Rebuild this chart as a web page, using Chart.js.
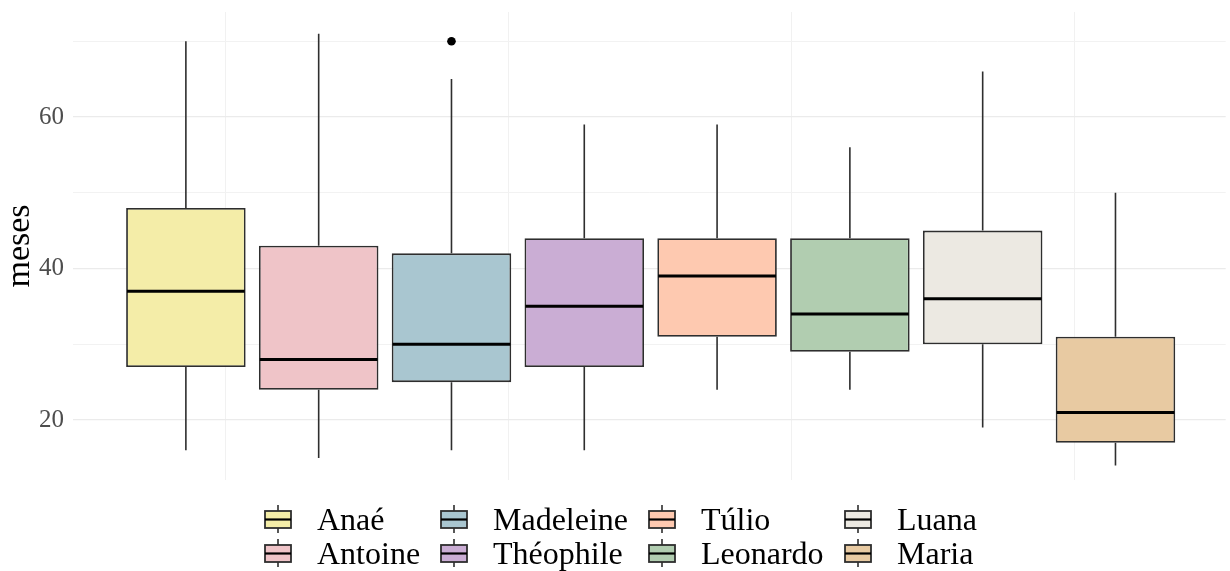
<!DOCTYPE html>
<html><head><meta charset="utf-8">
<script src="https://cdn.jsdelivr.net/npm/chart.js@4.4.0/dist/chart.umd.min.js"></script>
<style>
html,body{margin:0;padding:0;background:#fff;}
#wrap{position:relative;width:1230px;height:571px;overflow:hidden;}
#c{position:absolute;left:0;top:0;}
#legend{position:absolute;left:264px;top:502px;display:grid;grid-template-columns:176px 208px 196px auto;grid-template-rows:34px 34px;grid-auto-flow:column;font-family:'Liberation Serif',serif;font-size:32px;line-height:34px;color:#000;}
.item{display:flex;align-items:flex-start;white-space:nowrap;height:34px;}
.item canvas{margin-right:25px;display:block;}
</style></head><body>
<div id="wrap"><canvas id="c" width="1230" height="571"></canvas><div id="legend"></div></div>
<script>
// ---- data ----
const categories   = ['Anaé','Antoine','Madeleine','Théophile','Túlio','Leonardo','Luana','Maria'];
const whiskerLow   = [16, 15, 16, 16, 24, 24, 19, 14];
const q1           = [27, 24, 25, 27, 31, 29, 30, 17];
const median       = [37, 28, 30, 35, 39, 34, 36, 21];
const q3           = [48, 43, 42, 44, 44, 44, 45, 31];
const whiskerHigh  = [70, 71, 65, 59, 59, 56, 66, 50];
const outlierGroup = ['Madeleine'];
const outlierValue = [70];
const fillColors   = ['#F4EDA8','#EFC4C8','#A9C6D0','#CAADD4','#FEC9B0','#B1CDB0','#ECE9E2','#E8CAA2'];
const yTickLabels  = [20, 40, 60];
const yMinorBreaks = [30, 50, 70];
const xGridBreaks  = [0.30, 2.43, 4.56, 6.69];

const SERIF = "'Liberation Serif', serif";
const LINE = '#2E2E2E';

const barDatasets = categories.map((name, i) => ({
  type: 'bar',
  label: name,
  data: [{ x: i, y: [q1[i], q3[i]] }],
  backgroundColor: fillColors[i],
  borderColor: LINE,
  borderWidth: 1.8,
  borderSkipped: false,
  grouped: false,
  barPercentage: 0.9,
  categoryPercentage: 1.0,
  order: 2
}));

const outlierDataset = {
  type: 'scatter',
  label: '__outliers',
  data: outlierGroup.map((g, k) => ({ x: categories.indexOf(g), y: outlierValue[k] })),
  pointRadius: 4.3,
  pointHoverRadius: 4.3,
  backgroundColor: '#000000',
  borderWidth: 0,
  order: 1
};

function eachBox(chart, fn) {
  const ys = chart.scales.y;
  categories.forEach((name, i) => {
    const meta = chart.getDatasetMeta(i);
    const el = meta.data[0];
    if (!el) return;
    const p = el.getProps(['x', 'width'], true);
    fn(i, p.x, p.width, ys);
  });
}

const boxStats = {
  id: 'boxStats',
  beforeDatasetsDraw(chart) {
    const ctx = chart.ctx;
    ctx.save();
    ctx.strokeStyle = LINE;
    ctx.lineWidth = 1.6;
    eachBox(chart, (i, x, w, ys) => {
      ctx.beginPath();
      ctx.moveTo(x, ys.getPixelForValue(q3[i]));
      ctx.lineTo(x, ys.getPixelForValue(whiskerHigh[i]));
      ctx.moveTo(x, ys.getPixelForValue(q1[i]));
      ctx.lineTo(x, ys.getPixelForValue(whiskerLow[i]));
      ctx.stroke();
    });
    ctx.restore();
  },
  afterDatasetsDraw(chart) {
    const ctx = chart.ctx;
    ctx.save();
    ctx.strokeStyle = '#000000';
    ctx.lineWidth = 3;
    eachBox(chart, (i, x, w, ys) => {
      const y = ys.getPixelForValue(median[i]);
      ctx.beginPath();
      ctx.moveTo(x - w / 2 + 0.9, y);
      ctx.lineTo(x + w / 2 - 0.9, y);
      ctx.stroke();
    });
    ctx.restore();
  }
};

const chart = new Chart(document.getElementById('c'), {
  data: { datasets: [...barDatasets, outlierDataset] },
  options: {
    responsive: false,
    animation: false,
    layout: { padding: { left: 0, right: 0, top: 12, bottom: 91 } },
    plugins: { legend: { display: false }, tooltip: { enabled: false } },
    scales: {
      x: {
        type: 'linear',
        position: 'bottom',
        min: -0.85, max: 7.83,
        offset: false,
        border: { display: false },
        grid: { color: '#F1F1F1', lineWidth: 1, drawTicks: false, offset: false },
        ticks: { display: false },
        afterBuildTicks(scale) { scale.ticks = xGridBreaks.map(v => ({ value: v })); },
        afterFit(scale) { scale.height = 0; scale.paddingLeft = 0; scale.paddingRight = 0; }
      },
      y: {
        type: 'linear',
        position: 'left',
        min: 12.08, max: 73.86,
        border: { display: false },
        grid: {
          drawTicks: false,
          color: c => yTickLabels.includes(c.tick && c.tick.value) ? '#EBEBEB' : '#F2F2F2',
          lineWidth: c => yTickLabels.includes(c.tick && c.tick.value) ? 1.3 : 1
        },
        ticks: {
          autoSkip: false,
          padding: 9,
          color: '#4D4D4D',
          font: { family: SERIF, size: 25 },
          callback: v => yTickLabels.includes(v) ? String(v) : ''
        },
        afterBuildTicks(scale) {
          scale.ticks = [...yTickLabels, ...yMinorBreaks].sort((a, b) => a - b).map(v => ({ value: v }));
        },
        afterFit(scale) { scale.width = 73; scale.paddingTop = 0; scale.paddingBottom = 0; },
        title: {
          display: true, text: 'meses', color: '#000000',
          font: { family: SERIF, size: 34, lineHeight: 1.2 },
          padding: { top: 0, bottom: 0 }
        }
      }
    }
  },
  plugins: [boxStats]
});

// ---- HTML legend (column-major, 2 rows) ----
const legend = document.getElementById('legend');
chart.data.datasets.filter(d => d.type === 'bar').forEach(ds => {
  const item = document.createElement('div');
  item.className = 'item';
  const k = document.createElement('canvas');
  k.width = 28; k.height = 34;
  const g = k.getContext('2d');
  g.strokeStyle = LINE; g.lineWidth = 1.6;
  g.beginPath(); g.moveTo(14, 3); g.lineTo(14, 31); g.stroke();
  g.fillStyle = ds.backgroundColor;
  g.fillRect(1, 9, 26, 17);
  g.lineWidth = 1.8;
  g.strokeRect(1, 9, 26, 17);
  g.strokeStyle = '#000'; g.lineWidth = 2.2;
  g.beginPath(); g.moveTo(1, 17.5); g.lineTo(27, 17.5); g.stroke();
  const t = document.createElement('span');
  t.textContent = ds.label;
  item.appendChild(k); item.appendChild(t);
  legend.appendChild(item);
});
</script>
</body></html>
